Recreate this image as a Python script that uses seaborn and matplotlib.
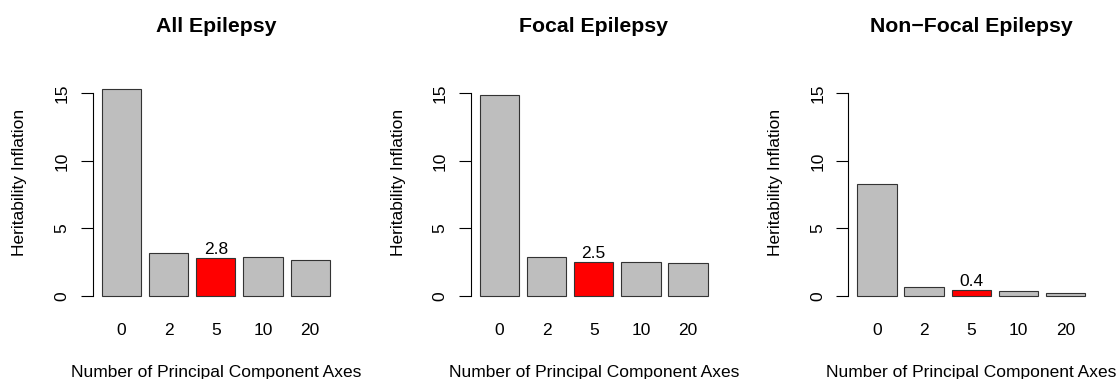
import matplotlib
matplotlib.use("Agg")
import matplotlib.pyplot as plt
import seaborn as sns
import pandas as pd

# Data
pc_axes = ["0", "2", "5", "10", "20"]
all_epilepsy = [15.3, 3.2, 2.84, 2.85, 2.7]
focal_epilepsy = [14.9, 2.86, 2.5, 2.55, 2.44]
nonfocal_epilepsy = [8.27, 0.67, 0.44, 0.39, 0.22]
panel_titles = ["All Epilepsy", "Focal Epilepsy", "Non\u2212Focal Epilepsy"]
highlight = "5"
y_ticks = [0, 5, 10, 15]

sns.set_theme(style="white")
plt.rcParams["font.family"] = ["Liberation Sans", "DejaVu Sans"]

W, H = 1120, 379
fig = plt.figure(figsize=(W / 100, H / 100), dpi=100)

# axes boxes in pixels (left, right); shared top/bottom
boxes = [(92.6, 339.0), (470.6, 716.8), (848.2, 1094.4)]
top_px, bot_px = 57.1, 305.2

series = [all_epilepsy, focal_epilepsy, nonfocal_epilepsy]
fs = 12.5

for (l, r), vals, title in zip(boxes, series, panel_titles):
    ax = fig.add_axes([l / W, 1 - bot_px / H, (r - l) / W, (bot_px - top_px) / H])
    df = pd.DataFrame({"pcs": pc_axes, "val": vals})
    colors = {c: ("#FF0000" if c == highlight else "#BEBEBE") for c in pc_axes}
    sns.barplot(data=df, x="pcs", y="val", hue="pcs", order=pc_axes,
                palette=colors, legend=False, width=1 / 1.2, saturation=1,
                edgecolor="#333333", linewidth=0.8, ax=ax)
    ax.set_xlim(-0.61, 4.61)
    ax.set_ylim(-0.68, 17.68)
    ax.set_facecolor("white")
    for s in ["top", "right", "bottom"]:
        ax.spines[s].set_visible(False)
    ax.spines["left"].set_color("black")
    ax.spines["left"].set_linewidth(0.8)
    ax.spines["left"].set_bounds(0, 15)
    ax.set_yticks(y_ticks)
    ax.set_yticklabels([str(t) for t in y_ticks], rotation=90, va="center",
                       fontsize=fs)
    ax.tick_params(axis="y", left=True, length=8.6, width=0.8, color="black",
                   pad=8, labelcolor="black")
    ax.tick_params(axis="x", bottom=False, length=0, pad=12.5, labelsize=fs,
                   labelcolor="black")
    ax.set_xlabel("")
    ax.set_ylabel("")

    # value label above highlighted bar
    idx = pc_axes.index(highlight)
    v = vals[idx]
    ax.annotate(f"{v:.1f}", xy=(idx, v), xytext=(0, 4),
                textcoords="offset pixels", ha="center", va="baseline",
                fontsize=fs, color="black")

    cx = (l + r) / 2 / W
    fig.text(cx, 1 - 31.5 / H, title, ha="center", va="baseline",
             fontsize=15.3, fontweight="bold", color="black")
    fig.text(cx, 1 - 377 / H, "Number of Principal Component Axes",
             ha="center", va="baseline", fontsize=fs, color="black")
    fig.text((l - 72.6) / W, 1 - 182 / H, "Heritability Inflation",
             ha="center", va="center", rotation=90, fontsize=fs, color="black")

fig.savefig("out.png", dpi=100, facecolor="white")
